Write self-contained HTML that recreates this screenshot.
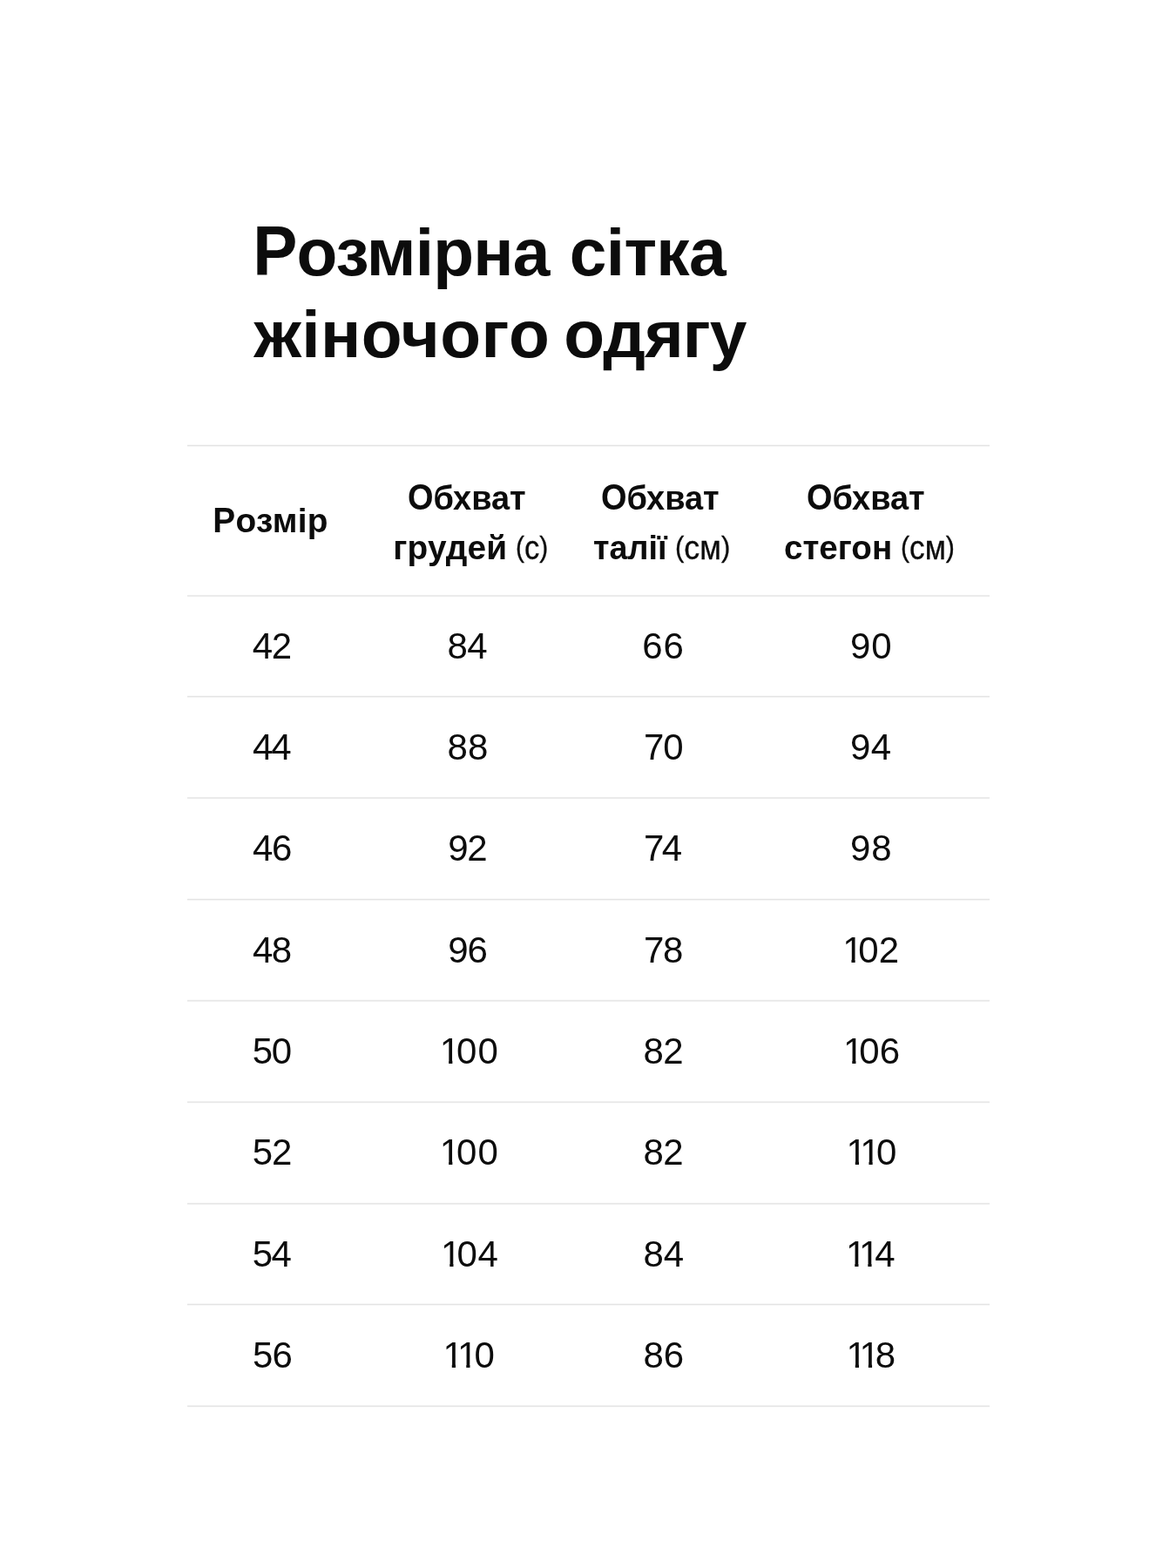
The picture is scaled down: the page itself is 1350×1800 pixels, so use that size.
<!DOCTYPE html>
<html lang="uk">
<head>
<meta charset="utf-8">
<title>Розмірна сітка жіночого одягу</title>
<style>
html,body{margin:0;padding:0;background:#fff;}
body{width:1350px;height:1800px;position:relative;overflow:hidden;font-family:"Liberation Sans", Arial, sans-serif;color:#0c0c0c;}
.t{position:absolute;white-space:nowrap;line-height:1;transform-origin:0 0;margin:0;}
.n{font-size:42px;line-height:47px;font-weight:400;}
.o{display:inline-block;margin-left:-3.1px;margin-right:-5.2px;clip-path:polygon(0 0,100% 0,100% 34px,14.5px 34px,14.5px 100%,10.3px 100%,10.3px 34px,0 34px);}
.k{display:inline-block;transform:scaleY(1.042);transform-origin:0 84.65%;}
.k1{transform:translateY(-1px) scaleY(1.042);}
.k2{transform:scaleY(1.09);}
.p{font-size:.865em;position:relative;top:-.07em;}
.ln{position:absolute;left:215px;width:921px;height:4px;}
</style>
</head>
<body>
<div class="ln" style="top:510px;background:linear-gradient(to bottom,#f8f8f8 0px,#f8f8f8 1px,#e3e3e3 1px,#e3e3e3 2px,#f6f6f6 2px,#f6f6f6 3px,#ffffff 3px,#ffffff 4px)"></div>
<div class="ln" style="top:683px;background:linear-gradient(to bottom,#ebebeb 0px,#ebebeb 1px,#ebebeb 1px,#ebebeb 2px,#fdfdfd 2px,#fdfdfd 3px,#ffffff 3px,#ffffff 4px)"></div>
<div class="ln" style="top:798px;background:linear-gradient(to bottom,#fbfbfb 0px,#fbfbfb 1px,#e4e4e4 1px,#e4e4e4 2px,#f3f3f3 2px,#f3f3f3 3px,#ffffff 3px,#ffffff 4px)"></div>
<div class="ln" style="top:915px;background:linear-gradient(to bottom,#ebebeb 0px,#ebebeb 1px,#ebebeb 1px,#ebebeb 2px,#fdfdfd 2px,#fdfdfd 3px,#ffffff 3px,#ffffff 4px)"></div>
<div class="ln" style="top:1031px;background:linear-gradient(to bottom,#f9f9f9 0px,#f9f9f9 1px,#e3e3e3 1px,#e3e3e3 2px,#f5f5f5 2px,#f5f5f5 3px,#ffffff 3px,#ffffff 4px)"></div>
<div class="ln" style="top:1147px;background:linear-gradient(to bottom,#fcfcfc 0px,#fcfcfc 1px,#e7e7e7 1px,#e7e7e7 2px,#efefef 2px,#efefef 3px,#fefefe 3px,#fefefe 4px)"></div>
<div class="ln" style="top:1264px;background:linear-gradient(to bottom,#efefef 0px,#efefef 1px,#e7e7e7 1px,#e7e7e7 2px,#fcfcfc 2px,#fcfcfc 3px,#ffffff 3px,#ffffff 4px)"></div>
<div class="ln" style="top:1380px;background:linear-gradient(to bottom,#fcfcfc 0px,#fcfcfc 1px,#e6e6e6 1px,#e6e6e6 2px,#f0f0f0 2px,#f0f0f0 3px,#fefefe 3px,#fefefe 4px)"></div>
<div class="ln" style="top:1496px;background:linear-gradient(to bottom,#f7f7f7 0px,#f7f7f7 1px,#e3e3e3 1px,#e3e3e3 2px,#f7f7f7 2px,#f7f7f7 3px,#ffffff 3px,#ffffff 4px)"></div>
<div class="ln" style="top:1613px;background:linear-gradient(to bottom,#f0f0f0 0px,#f0f0f0 1px,#e6e6e6 1px,#e6e6e6 2px,#fcfcfc 2px,#fcfcfc 3px,#ffffff 3px,#ffffff 4px)"></div>
<div class="t" id="t1a" style="left:290.14px;top:251.87px;font-size:76.7px;font-weight:700;letter-spacing:-0.82px;"><span class="k k1">Р</span>озмірна</div>
<div class="t" id="t1b" style="left:653.76px;top:251.87px;font-size:76.7px;font-weight:700;letter-spacing:-0.65px;">сітка</div>
<div class="t" id="t2a" style="left:291.43px;top:345.77px;font-size:76.7px;font-weight:700;letter-spacing:0.47px;">жіночого</div>
<div class="t" id="t2b" style="left:647.34px;top:345.77px;font-size:76.7px;font-weight:700;letter-spacing:-0.93px;">одягу</div>
<div class="t" id="h1" style="left:244.33px;top:579.46px;font-size:38.8px;font-weight:700;letter-spacing:0.32px;"><span class="k">Р</span>озмір</div>
<div class="t" id="h2a" style="left:467.70px;top:553.16px;font-size:38.8px;font-weight:700;transform:scaleX(0.9782);"><span class="k k2">О</span>бхват</div>
<div class="t" id="h2b" style="left:451.29px;top:609.76px;font-size:38.8px;font-weight:700;letter-spacing:0.15px;">грудей</div>
<div class="t" id="h2c" style="left:592.25px;top:609.76px;font-size:38.8px;font-weight:400;-webkit-text-stroke:.35px #0c0c0c;transform:scaleX(0.8911);"><span class="p">(</span>с<span class="p">)</span></div>
<div class="t" id="h3a" style="left:690.02px;top:553.16px;font-size:38.8px;font-weight:700;transform:scaleX(0.9782);"><span class="k k2">О</span>бхват</div>
<div class="t" id="h3b" style="left:680.83px;top:609.76px;font-size:38.8px;font-weight:700;transform:scaleX(0.9729);">талії</div>
<div class="t" id="h3c" style="left:775.48px;top:609.76px;font-size:38.8px;font-weight:400;-webkit-text-stroke:.35px #0c0c0c;transform:scaleX(0.9239);"><span class="p">(</span>см<span class="p">)</span></div>
<div class="t" id="h4a" style="left:926.37px;top:553.16px;font-size:38.8px;font-weight:700;transform:scaleX(0.9786);"><span class="k k2">О</span>бхват</div>
<div class="t" id="h4b" style="left:899.87px;top:609.76px;font-size:38.8px;font-weight:700;transform:scaleX(0.9942);">стегон</div>
<div class="t" id="h4c" style="left:1034.38px;top:609.76px;font-size:38.8px;font-weight:400;-webkit-text-stroke:.35px #0c0c0c;transform:scaleX(0.9051);"><span class="p">(</span>см<span class="p">)</span></div>
<div class="t n" id="n00" style="left:289.81px;top:718.00px;letter-spacing:-1.29px;">42</div>
<div class="t n" id="n01" style="left:513.57px;top:718.00px;letter-spacing:-0.73px;">84</div>
<div class="t n" id="n02" style="left:737.37px;top:718.00px;letter-spacing:0.76px;">66</div>
<div class="t n" id="n03" style="left:975.99px;top:718.00px;letter-spacing:1.01px;">90</div>
<div class="t n" id="n10" style="left:290.00px;top:834.00px;letter-spacing:-2.00px;">44</div>
<div class="t n" id="n11" style="left:513.57px;top:834.00px;letter-spacing:-0.02px;">88</div>
<div class="t n" id="n12" style="left:739.10px;top:834.00px;letter-spacing:-1.16px;">70</div>
<div class="t n" id="n13" style="left:975.99px;top:834.00px;letter-spacing:0.34px;">94</div>
<div class="t n" id="n20" style="left:290.00px;top:950.00px;letter-spacing:-1.42px;">46</div>
<div class="t n" id="n21" style="left:514.14px;top:950.00px;letter-spacing:-1.23px;">92</div>
<div class="t n" id="n22" style="left:739.10px;top:950.00px;letter-spacing:-2.65px;">74</div>
<div class="t n" id="n23" style="left:975.99px;top:950.00px;letter-spacing:0.97px;">98</div>
<div class="t n" id="n30" style="left:290.00px;top:1067.00px;letter-spacing:-1.49px;">48</div>
<div class="t n" id="n31" style="left:514.14px;top:1067.00px;letter-spacing:-0.89px;">96</div>
<div class="t n" id="n32" style="left:739.10px;top:1067.00px;letter-spacing:-1.36px;">78</div>
<div class="t n" id="n33" style="left:970.25px;top:1067.00px;letter-spacing:0.03px;"><span class="o">1</span>02</div>
<div class="t n" id="n40" style="left:289.77px;top:1183.00px;letter-spacing:-1.46px;">50</div>
<div class="t n" id="n41" style="left:507.96px;top:1183.00px;letter-spacing:1.01px;"><span class="o">1</span>00</div>
<div class="t n" id="n42" style="left:738.57px;top:1183.00px;letter-spacing:-0.63px;">82</div>
<div class="t n" id="n43" style="left:971.08px;top:1183.00px;letter-spacing:0.08px;"><span class="o">1</span>06</div>
<div class="t n" id="n50" style="left:289.77px;top:1299.00px;letter-spacing:-1.20px;">52</div>
<div class="t n" id="n51" style="left:507.96px;top:1299.00px;letter-spacing:1.01px;"><span class="o">1</span>00</div>
<div class="t n" id="n52" style="left:738.57px;top:1299.00px;letter-spacing:-0.63px;">82</div>
<div class="t n" id="n53" style="left:974.59px;top:1299.00px;letter-spacing:0.61px;"><span class="o">1</span><span class="o">1</span>0</div>
<div class="t n" id="n60" style="left:289.77px;top:1416.00px;letter-spacing:-1.61px;">54</div>
<div class="t n" id="n61" style="left:509.08px;top:1416.00px;letter-spacing:0.44px;"><span class="o">1</span>04</div>
<div class="t n" id="n62" style="left:738.57px;top:1416.00px;letter-spacing:-0.26px;">84</div>
<div class="t n" id="n63" style="left:974.08px;top:1416.00px;letter-spacing:-0.00px;"><span class="o">1</span><span class="o">1</span>4</div>
<div class="t n" id="n70" style="left:290.04px;top:1532.00px;letter-spacing:-0.82px;">56</div>
<div class="t n" id="n71" style="left:511.59px;top:1532.00px;letter-spacing:1.41px;"><span class="o">1</span><span class="o">1</span>0</div>
<div class="t n" id="n72" style="left:738.57px;top:1532.00px;letter-spacing:-0.25px;">86</div>
<div class="t n" id="n73" style="left:974.59px;top:1532.00px;letter-spacing:0.01px;"><span class="o">1</span><span class="o">1</span>8</div>
</body>
</html>
